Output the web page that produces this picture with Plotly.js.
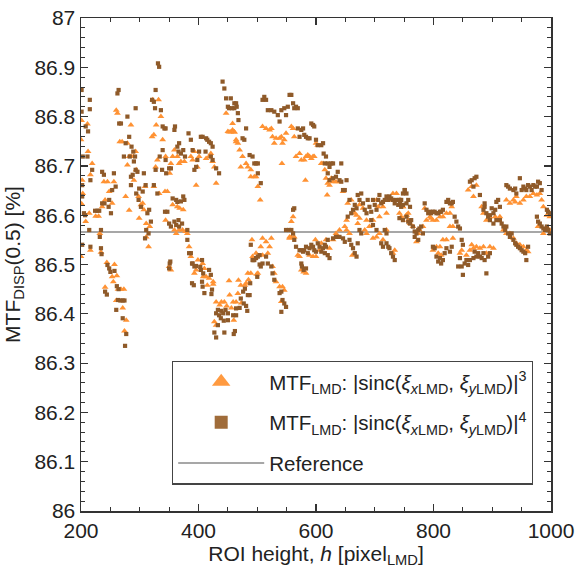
<!DOCTYPE html>
<html>
<head>
<meta charset="utf-8">
<script src="https://cdn.plot.ly/plotly-3.0.1.min.js"></script>
<style>html,body{margin:0;padding:0;background:#fff;}#chart{width:576px;height:568px;}</style>
</head>
<body>
<div id="chart"></div>
<script>
// ROI height h and MTF_DISP(0.5) values, |sinc|^3 (triangles)
const triH = [200,201,202,201,200,211,212,219,216,208,216,214,203,
225,230,232,234,239,236,241,
244,257,261,255,241,263,268,273,260,271,277,274,253,
260,262,248,253,245,256,
266,270,279,279,282,276,282,285,285,
290,289,293,294,298,302,305,307,299,309,
311,315,311,317,322,328,332,324,321,327,330,324,333,
336,339,344,343,347,351,353,350,353,344,356,
356,359,364,367,370,376,362,359,367,373,364,368,374,378,
381,384,387,393,396,387,390,393,396,398,401,
399,410,408,425,
407,413,415,418,425,413,418,421,424,427,430,
452,468,484,499,501,472,479,481,453,467,464,473,459,430,436,439,444,448,456,460,427,430,
447,450,452,455,458,461,464,467,
458,461,464,470,472,475,481,484,489,489,495,498,501,505,
485,489,491,492,498,506,509,
509,515,521,524,526,529,532,538,541,543,546,549,558,561,563,542,
509,515,518,521,524,526,529,532,538,543,546,541,561,558,555,563,
566,572,575,580,583,586,589,592,595,597,582,600,603,609,612,615,617,620,623,626,629,634,640,619,646,
555,558,569,572,575,579,583,589,595,600,606,599,609,617,623,629,634,640,649,652,
654,660,666,669,674,680,686,691,697,703,706,708,714,720,725,731,737,743,748,754,757,
652,657,662,671,674,683,686,697,703,708,714,720,731,734,
742,745,748,754,757,760,765,771,774,776,782,785,788,794,796,799,805,811,816,822,828,831,833,
799,805,808,811,813,816,822,828,833,845,848,856,862,865,868,873,879,885,890,896,902,
859,865,868,873,882,885,890,896,905,910,913,
919,924,930,936,941,947,953,958,961,
924,930,936,939,941,947,953,958,964,970,976,981,984,987,993,998,
978,987,993,998];
const triV = [86.753,86.792,86.671,86.623,86.516,86.785,86.729,86.705,86.682,86.587,86.529,86.604,86.644,
86.598,86.598,86.563,86.525,86.668,86.617,86.631,
86.504,86.500,86.477,86.465,86.454,86.450,86.450,86.450,86.427,86.412,86.387,86.365,86.475,
86.813,86.807,86.648,86.624,86.668,86.668,
86.749,86.749,86.746,86.702,86.719,86.638,86.610,86.719,86.783,
86.671,86.719,86.729,86.692,86.638,86.621,86.624,86.611,86.594,86.658,
86.556,86.536,86.583,86.577,86.834,86.783,86.834,86.763,86.759,86.698,86.712,86.658,86.644,
86.800,86.753,86.719,86.648,86.648,86.685,86.705,86.496,86.489,86.590,86.621,
86.719,86.732,86.719,86.705,86.709,86.709,86.563,86.570,86.570,86.570,86.617,86.614,86.611,86.567,
86.563,86.536,86.516,86.482,86.489,86.719,86.712,86.729,86.661,86.698,86.719,
86.509,86.492,86.475,86.460,
86.502,86.475,86.458,86.472,86.465,86.715,86.719,86.725,86.709,86.698,86.665,
86.467,86.468,86.482,86.480,86.482,86.458,86.458,86.462,86.438,86.441,86.424,86.422,86.424,86.424,86.418,86.424,86.424,86.416,86.412,86.387,86.384,86.377,
86.807,86.770,86.769,86.769,86.773,86.769,86.749,86.746,
86.786,86.769,86.753,86.732,86.698,86.719,86.705,86.698,86.692,86.678,86.678,86.678,86.658,86.631,
86.469,86.482,86.550,86.516,86.523,86.536,86.519,
86.780,86.776,86.773,86.776,86.759,86.746,86.756,86.756,86.759,86.746,86.753,86.766,86.780,86.776,86.759,86.705,
86.553,86.546,86.523,86.536,86.553,86.496,86.482,86.465,86.455,86.455,86.448,86.425,86.597,86.587,86.556,86.556,
86.719,86.725,86.712,86.712,86.719,86.722,86.719,86.715,86.719,86.719,86.671,86.746,86.742,86.705,86.705,86.692,86.675,86.665,86.661,86.675,86.668,86.668,86.668,86.641,86.648,
86.553,86.556,86.519,86.516,86.489,86.485,86.482,86.519,86.516,86.516,86.529,86.550,86.543,86.550,86.533,86.550,86.563,86.570,86.577,86.590,
86.624,86.631,86.604,86.600,86.621,86.614,86.590,86.577,86.590,86.631,86.617,86.597,86.617,86.604,86.631,86.644,86.644,86.631,86.617,86.600,86.590,
86.570,86.563,86.519,86.583,86.594,86.570,86.563,86.553,86.556,86.563,86.550,86.570,86.523,86.529,
86.604,86.597,86.617,86.600,86.604,86.583,86.577,86.546,86.563,86.570,86.577,86.614,86.590,86.597,86.594,86.590,86.590,86.597,86.597,86.604,86.604,86.617,86.577,
86.529,86.536,86.523,86.536,86.519,86.550,86.550,86.577,86.553,86.523,86.529,86.519,86.529,86.540,86.533,86.536,86.533,86.536,86.523,86.536,86.533,
86.651,86.658,86.638,86.661,86.617,86.604,86.590,86.597,86.597,86.590,86.597,
86.570,86.563,86.563,86.553,86.543,86.540,86.536,86.529,86.526,
86.631,86.624,86.631,86.627,86.638,86.624,86.631,86.638,86.638,86.644,86.641,86.644,86.631,86.617,86.600,86.597,
86.577,86.563,86.570,86.570];

// |sinc|^4 (squares)
const sqH = [201,201,203,202,202,202,208,212,215,215,219,216,211,205,214,216,207,
224,228,231,236,240,234,232,234,235,239,236,
245,248,250,257,261,241,244,264,263,267,271,274,260,271,277,275,
264,262,248,251,253,256,247,259,
265,268,273,276,279,282,283,285,285,286,
288,290,293,294,298,299,302,305,307,310,289,292,296,293,
313,316,311,309,315,319,321,324,326,327,324,330,327,331,333,
336,339,342,344,334,339,338,344,343,347,350,353,345,350,353,351,350,356,352,
359,360,364,366,370,367,374,359,362,366,367,372,362,364,370,374,376,377,
381,381,384,387,389,390,393,383,387,390,393,396,398,401,
396,403,406,418,421,406,389,392,423,422,
404,407,413,415,418,421,424,412,421,424,
493,500,504,479,487,476,472,477,481,483,464,470,433,439,446,430,435,442,450,459,464,438,443,450,433,427,430,444,462,460,
404,408,407,410,
430,435,441,444,447,450,452,457,461,464,467,
455,461,465,468,481,475,478,487,492,495,498,501,501,506,
484,488,492,495,498,501,504,509,506,489,
509,512,515,518,524,529,535,538,541,546,552,549,555,558,561,566,563,569,
515,518,524,526,529,538,541,543,546,541,549,549,554,558,561,563,566,
569,575,578,572,580,583,586,589,592,595,597,600,603,609,612,613,617,615,620,623,626,629,620,623,629,634,640,643,637,643,646,649,652,561,563,
572,575,578,580,583,586,589,592,595,597,600,603,606,609,612,615,620,623,615,575,576,579,583,620,617,629,634,640,646,649,
654,657,660,663,666,669,671,674,677,680,683,686,688,691,694,697,700,703,706,708,711,714,717,720,723,725,728,731,734,737,740,743,745,748,751,754,757,760,
657,660,663,666,669,671,674,677,694,697,703,711,714,720,723,725,728,731,734,717,720,
742,748,751,745,754,742,748,754,757,760,762,765,768,771,774,776,779,782,768,774,
785,788,791,794,796,799,802,805,808,811,813,816,822,825,828,831,833,
799,802,805,808,811,813,816,819,822,828,831,
836,839,842,845,848,850,845,842,848,853,859,856,850,862,868,870,873,876,879,882,885,887,890,893,896,
862,865,870,873,868,879,885,887,890,893,896,899,902,905,907,910,913,887,
896,902,907,913,916,919,922,924,927,930,933,936,939,941,944,947,950,953,956,958,961,
924,927,930,936,939,941,947,950,953,956,958,961,964,967,970,973,976,978,981,984,
976,978,981,984,987,990,993,995,998,993,995,998];
const sqV = [86.854,86.810,86.719,86.661,86.638,86.540,86.780,86.770,86.834,86.815,86.692,86.671,86.719,86.604,86.570,86.536,86.600,
86.609,86.609,86.609,86.624,86.624,86.570,86.556,86.533,86.521,86.682,86.688,
86.499,86.492,86.485,86.487,86.456,86.445,86.439,86.450,86.428,86.427,86.427,86.427,86.408,86.391,86.359,86.335,
86.854,86.847,86.631,86.604,86.651,86.685,86.617,86.658,
86.786,86.786,86.719,86.746,86.800,86.759,86.719,86.661,86.678,86.739,
86.682,86.709,86.692,86.644,86.631,86.654,86.617,86.648,86.685,86.661,86.729,86.719,86.688,86.817,
86.604,86.611,86.570,86.553,86.563,86.587,86.834,86.830,86.817,86.854,86.661,86.644,86.692,86.908,86.901,
86.813,86.780,86.776,86.776,86.719,86.732,86.692,86.712,86.607,86.607,86.583,86.577,86.685,86.695,86.695,86.502,86.492,86.634,86.506,
86.773,86.780,86.739,86.729,86.725,86.746,86.732,86.587,86.580,86.590,86.577,86.583,86.631,86.627,86.628,86.638,86.631,86.719,
86.570,86.550,86.523,86.523,86.502,86.502,86.496,86.766,86.753,86.732,86.692,86.698,86.712,86.729,
86.497,86.495,86.509,86.489,86.479,86.465,86.462,86.458,86.449,86.440,
86.759,86.759,86.756,86.753,86.749,86.746,86.739,86.729,86.719,86.712,
86.509,86.475,86.500,86.451,86.438,86.445,86.431,86.421,86.416,86.406,86.411,86.412,86.408,86.406,86.408,86.401,86.397,86.401,86.401,86.397,86.397,86.391,86.386,86.387,86.377,86.362,86.352,86.362,86.365,86.359,
86.489,86.482,86.455,86.442,
86.695,86.685,86.871,86.857,86.837,86.820,86.817,86.817,86.827,86.827,86.807,
86.837,86.817,86.820,86.793,86.776,86.756,86.753,86.722,86.719,86.705,86.705,86.705,86.685,86.665,
86.438,86.462,86.509,86.509,86.513,86.516,86.519,86.502,86.496,86.540,
86.834,86.840,86.834,86.813,86.813,86.810,86.803,86.790,86.813,86.817,86.820,86.803,86.844,86.844,86.827,86.820,86.817,86.817,
86.516,86.502,86.496,86.482,86.469,86.442,86.445,86.428,86.421,86.404,86.414,86.570,86.570,86.570,86.563,86.550,86.536,
86.776,86.773,86.776,86.759,86.763,86.759,86.756,86.756,86.786,86.783,86.780,86.753,86.742,86.742,86.746,86.725,86.719,86.705,86.705,86.698,86.705,86.705,86.685,86.671,86.675,86.678,86.671,86.705,86.688,86.668,86.651,86.651,86.671,86.611,86.614,
86.529,86.529,86.526,86.529,86.536,86.523,86.533,86.540,86.536,86.529,86.526,86.543,86.536,86.526,86.533,86.523,86.519,86.513,86.540,86.502,86.496,86.489,86.492,86.550,86.536,86.553,86.556,86.556,86.553,86.546,
86.597,86.631,86.604,86.611,86.621,86.614,86.641,86.631,86.644,86.624,86.611,86.604,86.631,86.617,86.607,86.631,86.621,86.611,86.631,86.641,86.624,86.627,86.631,86.638,86.631,86.638,86.634,86.631,86.624,86.631,86.621,86.624,86.631,86.621,86.651,86.644,86.631,86.617,
86.550,86.540,86.533,86.523,86.516,86.543,86.570,86.563,86.590,86.580,86.570,86.543,86.536,86.543,86.536,86.533,86.523,86.516,86.509,86.570,86.563,
86.631,86.644,86.651,86.617,86.624,86.594,86.590,86.597,86.587,86.583,86.590,86.577,86.567,86.563,86.570,86.573,86.577,86.563,86.556,86.550,
86.624,86.611,86.604,86.607,86.604,86.607,86.607,86.604,86.604,86.607,86.607,86.611,86.627,86.631,86.624,86.624,86.627,
86.536,86.533,86.516,86.506,86.513,86.502,86.509,86.523,86.533,86.526,86.536,
86.597,86.587,86.577,86.573,86.550,86.540,86.513,86.496,86.496,86.502,86.499,86.509,86.479,86.509,86.513,86.526,86.516,86.523,86.516,86.513,86.523,86.509,86.482,86.516,86.523,
86.668,86.671,86.675,86.678,86.658,86.641,86.611,86.617,86.604,86.597,86.600,86.614,86.604,86.611,86.627,86.631,86.617,86.624,
86.590,86.583,86.590,86.590,86.583,86.577,86.570,86.577,86.563,86.556,86.563,86.550,86.543,86.540,86.536,86.533,86.529,86.526,86.523,86.509,86.536,
86.661,86.658,86.654,86.651,86.654,86.644,86.675,86.651,86.658,86.654,86.651,86.661,86.658,86.651,86.661,86.658,86.658,86.668,86.665,86.651,
86.597,86.587,86.583,86.577,86.573,86.570,86.577,86.570,86.563,86.611,86.607,86.604];

// Reference value (horizontal line)
const refValue = 86.566;
const xRange = [200, 1000];
const yRange = [86, 87];
const seriesNames = [
  'MTF<sub>LMD</sub>: |sinc(<i>ξ</i><sub><i>x</i>LMD</sub>, <i>ξ</i><sub><i>y</i>LMD</sub>)|<sup>3</sup>',
  'MTF<sub>LMD</sub>: |sinc(<i>ξ</i><sub><i>x</i>LMD</sub>, <i>ξ</i><sub><i>y</i>LMD</sub>)|<sup>4</sup>',
  'Reference'
];

const triColor = '#FF9233';
const sqColor = '#8F5A29';
const FONT = 'Liberation Sans, Arial, sans-serif';

const traces = [
  {x:[null], y:[null], mode:'markers', name:seriesNames[0], legendgroup:'g1',
   marker:{symbol:'triangle-up', size:16, color:'#FF9A40'}},
  {x:[null], y:[null], mode:'markers', name:seriesNames[1], legendgroup:'g2',
   marker:{symbol:'square', size:13, color:'#A06C3A'}},
  {x:xRange, y:[refValue, refValue], mode:'lines', name:seriesNames[2], legendgroup:'g3',
   line:{color:'#8a8a8a', width:1.5}},
  {x:triH, y:triV, mode:'markers', showlegend:false, hoverinfo:'skip',
   marker:{symbol:'triangle-up', size:6, color:triColor, line:{width:0}}},
  {x:sqH, y:sqV, mode:'markers', showlegend:false, hoverinfo:'skip',
   marker:{symbol:'square', size:4.2, color:sqColor, line:{width:0}}}
];

const axisCommon = {
  showgrid:false, zeroline:false, showline:true, linecolor:'#333', linewidth:1.5,
  mirror:'ticks', ticks:'inside', ticklen:7, tickwidth:1.2, tickcolor:'#333',
  tickfont:{family:FONT, size:21, color:'#222'}
};

const layout = {
  width:576, height:568,
  margin:{l:81, r:25, t:18, b:57},
  paper_bgcolor:'#fff', plot_bgcolor:'#fff',
  font:{family:FONT, size:21, color:'#222'},
  showlegend:true,
  legend:{x:0.1936, y:0.305, xanchor:'left', yanchor:'top',
    bgcolor:'#fff', bordercolor:'#444', borderwidth:1.2,
    font:{family:FONT, size:20.5, color:'#222'},
    itemwidth:86, tracegroupgap:11, traceorder:'grouped'},
  xaxis:Object.assign({}, axisCommon, {
    range:xRange, tick0:0, dtick:200,
    minor:{dtick:50, ticks:'inside', ticklen:4, tickwidth:1, tickcolor:'#333'},
    title:{text:'ROI height, <i>h</i> [pixel<sub>LMD</sub>]', font:{family:FONT, size:21, color:'#222'}, standoff:4}
  }),
  yaxis:Object.assign({}, axisCommon, {
    range:yRange, tick0:86, dtick:0.1,
    minor:{dtick:0.02, ticks:'inside', ticklen:4, tickwidth:1, tickcolor:'#333'},
    title:{text:'MTF<sub>DISP</sub>(0.5) [%]', font:{family:FONT, size:21, color:'#222'}, standoff:8}
  })
};

Plotly.newPlot('chart', traces, layout, {displayModeBar:false, staticPlot:true});
</script>
</body>
</html>
